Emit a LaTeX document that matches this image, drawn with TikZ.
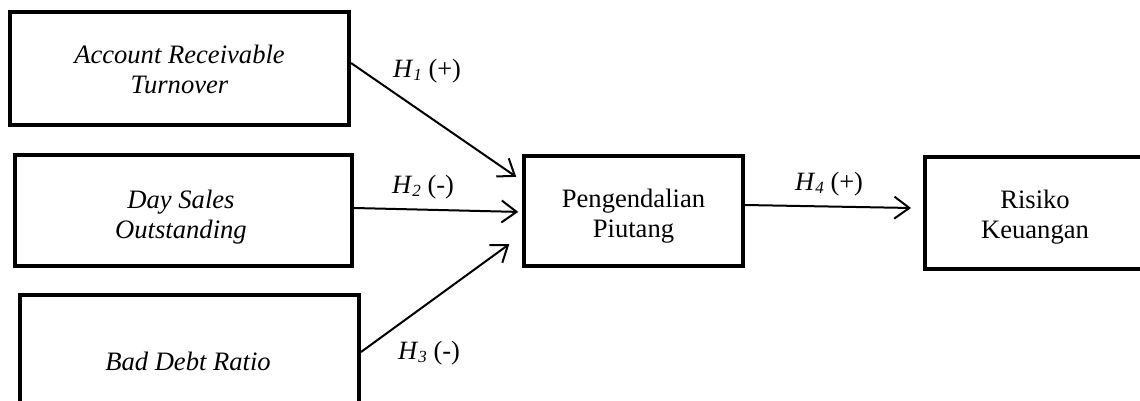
\documentclass[tikz,border=0pt]{standalone}
\usepackage{fontspec}
\setmainfont{Liberation Serif}
\usetikzlibrary{arrows.meta}
\tikzset{
  box/.style={draw=black, rectangle, inner sep=0pt, line width=4pt},
  boxtext/.style={inner sep=0pt, align=center, anchor=north, font=\fontsize{26.6}{30}\selectfont},
  lbl/.style={inner sep=0pt, anchor=base west, font=\fontsize{26.4}{30}\selectfont},
  arr/.style={draw=black, line width=2pt, -{Straight Barb[length=15pt,width=22pt,line width=2pt]}}
}
\newcommand{\hsub}[1]{\textit{H}\raisebox{-3pt}{\fontsize{17}{17}\selectfont\textit{#1}}}
\begin{document}
\begin{tikzpicture}[x=1pt,y=-1pt]
\useasboundingbox (0,0) rectangle (1140,401);
\clip (0,0) rectangle (1140,401);
% boxes
\node[box, minimum width=339pt, minimum height=113pt] (A) at (179.5,68.5) {};
\node[box, minimum width=337pt, minimum height=111pt] (B) at (183.5,210.5) {};
\node[box, minimum width=339pt, minimum height=135pt] (C) at (189.5,362.5) {};
\node[box, line width=3.5pt, minimum width=219pt, minimum height=110pt] (D) at (633.5,211) {};
\node[box, minimum width=222pt, minimum height=112pt] (E) at (1036,213) {};
% texts
\node[boxtext] (tA) at (179.5,45.3) {\itshape Account Receivable\\\itshape Turnover};
\node[boxtext] (tB) at (181,190.3) {\itshape Day Sales\\\itshape Outstanding};
\node[boxtext] (tC) at (188,352) {\itshape Bad Debt Ratio};
\node[boxtext] (tD) at (633.5,188.5) {Pengendalian\\Piutang};
\node[boxtext] (tE) at (1035,190.3) {Risiko\\Keuangan};
% arrows
\draw[arr, shorten >=7.3pt] ([yshift=5.5pt]A.east) -- ([yshift=30pt]D.west);
\draw[arr, shorten >=4pt] ([yshift=2.5pt]B.east) -- ([yshift=-1pt]D.west);
\draw[arr, shorten >=16pt] ([yshift=10.5pt]C.east) -- ([yshift=-23.7pt]D.west);
\draw[arr, shorten >=12pt] ([yshift=6pt]D.east) -- ([yshift=4.8pt]E.west);
% labels
\node[lbl] (h1) at (393,78) {\hsub{1} (+)};
\node[lbl] (h2) at (392,193) {\hsub{2} (-)};
\node[lbl] (h3) at (398,359) {\hsub{3} (-)};
\node[lbl] (h4) at (795,190) {\hsub{4} (+)};
\end{tikzpicture}
\end{document}
